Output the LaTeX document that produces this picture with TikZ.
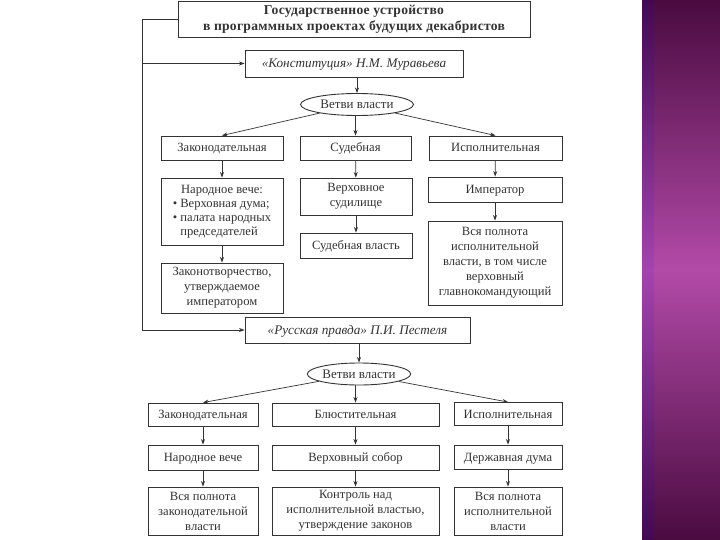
\documentclass[tikz,border=0pt]{standalone}
\usepackage{fontspec}
\setmainfont{Liberation Serif}
\usetikzlibrary{shapes.geometric,arrows.meta}
\definecolor{ink}{HTML}{333333}
\definecolor{bandDark}{HTML}{4A0B40}
\definecolor{bandMid}{HTML}{B24AA8}
\tikzset{
  box/.style={draw=ink, line width=0.9pt, inner sep=0pt, align=center, text=ink,
    font=\fontsize{12.6}{15}\selectfont},
  one/.style={text height=8pt, text depth=0pt},
  oval/.style={draw=ink, line width=0.9pt, ellipse, inner sep=0pt, text=ink,
    font=\fontsize{13}{15}\selectfont, text height=8pt, text depth=0pt},
  arr/.style={draw=ink, line width=0.7pt, -{Stealth[length=5.5pt,width=4pt]}},
  ln/.style={draw=ink, line width=0.9pt},
}
\begin{document}
\begin{tikzpicture}[x=1pt,y=-1pt]
\useasboundingbox (0,0) rectangle (720,540);
\fill[white] (0,0) rectangle (720,540);
% purple band
\shade[top color=bandDark, bottom color=bandDark, middle color=bandMid] (642,0) rectangle (720,540);
\shade[top color=bandDark!80!blue, bottom color=bandDark!80!blue, middle color=bandMid!85!blue, opacity=0.5] (642,0) rectangle (654,540);

% title
\node[box, minimum width=352, minimum height=36, font=\bfseries\fontsize{13.6}{16}\selectfont\addfontfeatures{LetterSpace=2}] (title) at (354,19)
  {Государственное устройство\\в программных проектах будущих декабристов};

% Muravyov
\node[box, one, minimum width=218, minimum height=27, font=\itshape\fontsize{13.2}{15}\selectfont] (konst) at (354,63.5)
  {«Конституция» Н.М. Муравьева};
\node[oval, minimum width=113, minimum height=22] (vet1) at (357,104.5) {Ветви власти};
\node[box, one, minimum width=122, minimum height=24] (zak1) at (222,148) {Законодательная};
\node[box, one, minimum width=111, minimum height=24] (sud1) at (355.5,148) {Судебная};
\node[box, one, minimum width=133, minimum height=24] (isp1) at (495.5,148) {Исполнительная};
\node[box, minimum width=122, minimum height=67] (narv1) at (222,211.5)
  {\begin{tabular}{@{}l@{}}\multicolumn{1}{@{}c@{}}{Народное вече:}\\[-1pt]
   • Верховная дума;\\[-1pt] • палата народных\\[-1pt] \hphantom{• }председателей\end{tabular}};
\node[box, minimum width=112, minimum height=37] (vsud) at (356,196.5) {Верховное\\судилище};
\node[box, one, minimum width=112, minimum height=25] (sudvl) at (356,245.5) {Судебная власть};
\node[box, one, minimum width=134, minimum height=25] (imp) at (495,189.5) {Император};
\node[box, minimum width=134, minimum height=84] (vsya1) at (495,263)
  {Вся полнота\\исполнительной\\власти, в том числе\\верховный\\главнокомандующий};
\node[box, minimum width=122, minimum height=50] (zakt) at (222,288)
  {Законотворчество,\\утверждаемое\\императором};

% Pestel
\node[box, one, minimum width=225, minimum height=26, font=\itshape\fontsize{13.2}{15}\selectfont] (russ) at (357.5,330)
  {«Русская правда» П.И. Пестеля};
\node[oval, minimum width=103, minimum height=22] (vet2) at (359,374) {Ветви власти};
\node[box, one, minimum width=110, minimum height=23] (zak2) at (203,414.5) {Законодательная};
\node[box, one, minimum width=167, minimum height=23] (blyu) at (355.5,414.5) {Блюстительная};
\node[box, one, minimum width=108, minimum height=23] (isp2) at (508,414) {Исполнительная};
\node[box, one, minimum width=110, minimum height=25] (narv2) at (203,457.5) {Народное вече};
\node[box, one, minimum width=167, minimum height=25] (vsob) at (355.5,457.5) {Верховный собор};
\node[box, one, minimum width=108, minimum height=24] (derzh) at (508,457) {Державная дума};
\node[box, minimum width=110, minimum height=48] (vsya2) at (203,511) {Вся полнота\\законодательной\\власти};
\node[box, minimum width=167, minimum height=48] (kontr) at (355.5,511) {Контроль над\\исполнительной властью,\\утверждение законов};
\node[box, minimum width=108, minimum height=48] (vsya3) at (508,511) {Вся полнота\\исполнительной\\власти};

% left bracket connector
\coordinate (corner) at (142,19);
\coordinate (kbr) at (142,63.5);
\draw[ln] (title.west) -- (corner);
\draw[arr] (corner) |- (russ.west);
\draw[arr] (kbr) -- (konst.west);

% top tree
\draw[arr] (konst.south -| vet1.north) -- (vet1.north);
\draw[arr] (vet1) -- (zak1.north);
\draw[arr] (vet1.south -| sud1.north) -- (sud1.north);
\draw[arr] (vet1) -- (isp1.north);
\draw[arr] (zak1) -- (narv1);
\draw[arr] (narv1) -- (zakt);
\draw[arr] (sud1) -- (vsud);
\draw[arr] (vsud) -- (sudvl);
\draw[arr] (isp1) -- (imp);
\draw[arr] (imp) -- (vsya1);

% bottom tree
\draw[arr] (russ.south -| vet2.north) -- (vet2.north);
\draw[arr] (vet2) -- (zak2.north);
\draw[arr] (vet2.south -| blyu.north) -- (blyu.north);
\draw[arr] (vet2) -- (isp2.north);
\draw[arr] (zak2) -- (narv2);
\draw[arr] (narv2) -- (vsya2);
\draw[arr] (blyu) -- (vsob);
\draw[arr] (vsob) -- (kontr);
\draw[arr] (isp2) -- (derzh);
\draw[arr] (derzh) -- (vsya3);
\end{tikzpicture}
\end{document}
